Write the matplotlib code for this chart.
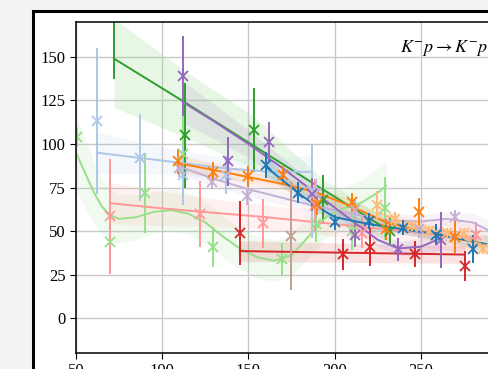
import matplotlib
matplotlib.use('Agg')
import numpy as np
import matplotlib.pyplot as plt
from matplotlib.patches import Rectangle

plt.rcParams['font.family'] = ['Liberation Serif', 'DejaVu Serif']
plt.rcParams['mathtext.fontset'] = 'stix'

# ---- data (x = energy, y = value) ----
# each series: measured points with errors, then fitted curve with band
green_x = [72, 113, 153, 193, 232]
green_y = [178, 105, 108, 68, 50]
green_e = [41, 30, 24, 14, 8]
green_fx = [72, 113, 153, 193, 232]
green_fy = [149, 124, 99, 74, 50]
green_lo = [121, 104, 86, 64, 44]
green_hi = [172, 142, 116, 80, 56]

purple_x = [112, 138, 162, 187, 212, 237, 262]
purple_y = [139, 90, 101, 71, 48, 39.5, 45]
purple_e = [23, 14, 11.5, 9.5, 7, 6.5, 16]
purple_fx = [112, 130, 150, 170, 190, 210, 225, 237, 250, 262]
purple_fy = [124, 113, 100, 86, 71, 56, 45, 40, 41, 46]
purple_w = [12, 10, 8, 6, 5, 4, 4, 4, 5, 7]

lpurple_x = [110, 129, 149, 189, 212, 249, 270]
lpurple_y = [86, 78, 70, 72, 62, 51, 58]
lpurple_e = [5, 4, 5, 8, 6, 5, 4]
lpurple_fx = [110, 130, 150, 170, 190, 210, 230, 250, 265, 280, 290]
lpurple_fy = [87, 80, 74, 69, 64, 60, 56, 55.5, 57, 55, 50]
lpurple_w = [5, 4, 4, 4, 4, 4, 4, 4, 4, 5, 6]

lblue_x = [62, 87, 112, 137, 187]
lblue_y = [113, 92, 82, 82, 73]
lblue_e = [42, 25, 17, 11, 27]
lblue_fx = [62, 87, 112, 137, 162, 187]
lblue_fy = [95, 92, 89, 86, 84, 84]
lblue_w = [12, 9, 7, 6, 7, 10]

orange_x = [109, 129.5, 150, 170, 190, 210, 230, 249, 270]
orange_y = [90, 84, 81.5, 82, 65.5, 66.5, 51, 61, 46.5]
orange_e = [7, 5.5, 6, 5.5, 6, 5.5, 6, 8, 9]
orange_fx = [109, 130, 150, 170, 190, 210, 230, 250, 270, 290]
orange_fy = [89, 85, 81, 77, 72, 64, 55, 50, 46, 42]
orange_w = [5, 4, 3.5, 3.5, 3.5, 3.5, 3.5, 4, 5, 6]

blue_x = [160, 179, 200, 220, 239.5, 259, 280]
blue_y = [88, 72, 55, 55.6, 52, 48, 39.6]
blue_e = [7.5, 6, 4.3, 4.5, 4.5, 6, 8]
blue_fx = [160, 170, 180, 190, 200, 220, 240, 260, 280, 290]
blue_fy = [87, 79, 71, 64, 58, 54, 51, 48, 44, 42]
blue_w = [6, 4, 3, 3, 3, 3, 3, 3, 4, 5]

lorange_x = [224.5, 235, 245, 255, 265, 275, 286]
lorange_y = [65, 57, 53, 50, 49, 49, 39.6]
lorange_e = [8, 4, 3, 3, 3, 3, 3]
lorange_fx = [224, 240, 255, 270, 290]
lorange_fy = [61, 55, 51, 47, 41]
lorange_w = [5, 3, 3, 3, 4]

lgreen_x = [50.5, 69.7, 90, 112, 129.5, 169.6, 189, 210, 229]
lgreen_y = [104, 44, 72, 94, 40.7, 34, 54, 50, 63]
lgreen_e = [6, 17, 23, 24, 11.5, 9, 10, 11, 18]
lgreen_fx = [50, 55, 60, 65, 70, 75, 85, 95, 105, 115, 125, 135, 145,
             155, 165, 175, 185, 195, 205, 215, 225, 230]
lgreen_fy = [95, 84, 73, 64, 59, 57, 58, 61, 62, 60, 55, 47, 40,
             35, 33, 36, 47, 58, 63, 66, 72, 76]
lgreen_w = [22, 20, 18, 16, 15, 14, 13, 12, 12, 12, 12, 12, 12,
            12, 12, 12, 12, 12, 12, 13, 14, 15]

lred_x = [69.7, 122, 158.5, 188.5, 216, 282]
lred_y = [58.5, 59.6, 54.5, 65, 49, 48]
lred_e = [33, 19, 14, 15, 9, 7]
lred_fx = [69.7, 100, 130, 160, 190, 220, 250, 282]
lred_fy = [66, 63, 60.5, 58, 55, 52, 49, 46]
lred_w = [12, 10, 8, 7, 7, 7, 8, 9]

red_x = [145, 204.8, 220.4, 246.5, 275.5]
red_y = [49, 36.7, 41, 37, 30]
red_e = [18.5, 9, 11, 7.5, 8.5]
red_fx = [145, 275.5]
red_fy = [38.5, 36.5]
red_w = [6, 5]

brown_x = [174.6]
brown_y = [47]
brown_e = [31]

series = [
    # color, points, fit, band half width, line style
    ('#98df8a', lgreen_x, lgreen_y, lgreen_e, lgreen_fx, lgreen_fy, lgreen_w, '-'),
    ('#ff9896', lred_x, lred_y, lred_e, lred_fx, lred_fy, lred_w, '-'),
    ('#aec7e8', lblue_x, lblue_y, lblue_e, lblue_fx, lblue_fy, lblue_w, '-'),
    ('#c5b0d5', lpurple_x, lpurple_y, lpurple_e, lpurple_fx, lpurple_fy, lpurple_w, '-'),
    ('#d62728', red_x, red_y, red_e, red_fx, red_fy, red_w, '-'),
    ('#9467bd', purple_x, purple_y, purple_e, purple_fx, purple_fy, purple_w, '-'),
    ('#ff7f0e', orange_x, orange_y, orange_e, orange_fx, orange_fy, orange_w, '-'),
    ('#1f77b4', blue_x, blue_y, blue_e, blue_fx, blue_fy, blue_w, '-'),
    ('#ffbb78', lorange_x, lorange_y, lorange_e, lorange_fx, lorange_fy, lorange_w, '--'),
]

# ---- figure ----
fig = plt.figure(figsize=(4.88, 3.69), dpi=100, facecolor='#f2f3f2')
frame = Rectangle((33 / 488, -0.1), 1.0, 1.1 - 11 / 369,
                  transform=fig.transFigure, fc='white',
                  ec='black', lw=2.2, zorder=-10)
fig.patches.append(frame)

ax = fig.add_axes([76 / 488, 16 / 369, 431 / 488, 331 / 369])
ax.set_zorder(1)
ax.set_xlim(50, 300)
ax.set_ylim(-20, 170)
ax.set_xticks([50, 100, 150, 200, 250, 300])
ax.set_yticks([0, 25, 50, 75, 100, 125, 150])
ax.grid(True, color='#c8c8c8', lw=1.0)
ax.set_axisbelow(True)
ax.tick_params(labelsize=12, length=4)
for s in ax.spines.values():
    s.set_linewidth(1.1)

# green band uses explicit lo/hi
ax.fill_between(green_fx, green_lo, green_hi, color='#98df8a', alpha=0.22, lw=0)

for c, x, y, e, fx, fy, w, ls in series:
    fy = np.array(fy)
    w = np.array(w)
    ax.fill_between(fx, fy - w, fy + w, color=c, alpha=0.13, lw=0)

ax.plot(green_fx, green_fy, color='#2ca02c', lw=1.4)
ax.errorbar(green_x, green_y, yerr=green_e, fmt='x', color='#2ca02c',
            ms=7, mew=1.3, elinewidth=1.4)

for c, x, y, e, fx, fy, w, ls in series:
    ax.plot(fx, fy, color=c, lw=1.4, ls=ls)
    ax.errorbar(x, y, yerr=e, fmt='x', color=c, ms=7, mew=1.3, elinewidth=1.4)

ax.errorbar(brown_x, brown_y, yerr=brown_e, fmt='x', color='#c49c94',
            ms=7, mew=1.3, elinewidth=1.4)

ax.text(289, 155, r'$K^{-}p\rightarrow K^{-}p$', ha='right', va='center',
        fontsize=13)

fig.savefig('out.png', dpi=100, facecolor=fig.get_facecolor())
